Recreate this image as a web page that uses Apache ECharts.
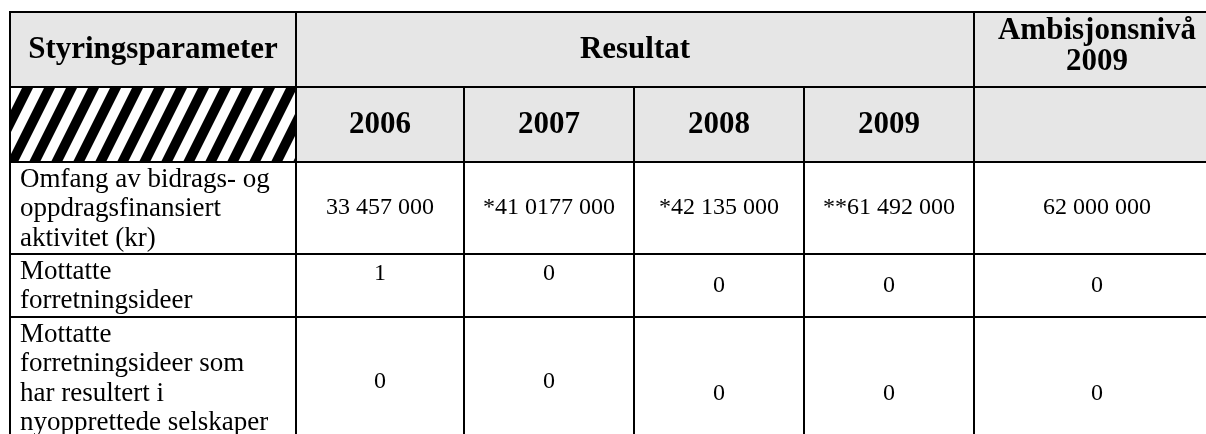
<!DOCTYPE html>
<html>
<head>
<meta charset="utf-8">
<script src="https://cdn.jsdelivr.net/npm/echarts@6/dist/echarts.min.js"></script>
<style>
  html, body { margin: 0; padding: 0; background: #fff; }
  #chart { width: 1206px; height: 434px; }
</style>
</head>
<body>
<div id="chart"></div>
<script>
// table content
const headTitle = 'Styringsparameter'
const groupTitle = 'Resultat'
const targetTitle = 'Ambisjonsnivå\n2009'
const years = ['2006', '2007', '2008', '2009']
const rowLabels = [
  'Omfang av bidrags- og\noppdragsfinansiert\naktivitet (kr)',
  'Mottatte\nforretningsideer',
  'Mottatte\nforretningsideer som\nhar resultert i\nnyopprettede selskaper'
]
const results = [
  ['33 457 000', '*41 0177 000', '*42 135 000', '**61 492 000'],
  ['1', '0', '0', '0'],
  ['0', '0', '0', '0']
]
const targets = ['62 000 000', '0', '0']

// layout: cell edges on the hidden value axes
const colEdges = [10, 296, 464, 634, 804, 974, 1220]
const rowEdges = [12, 87, 162, 254, 317, 470]
const raised = ['3-1', '3-2', '4-1', '4-2']

const GRAY = '#e6e6e6'
const SERIF = '"Liberation Serif", "Times New Roman", serif'

// striped fill for the empty corner cell
function stripes() {
  const c = document.createElement('canvas')
  c.width = 22
  c.height = 44
  const ctx = c.getContext('2d')
  ctx.fillStyle = '#fff'
  ctx.fillRect(0, 0, 22, 44)
  ctx.fillStyle = '#000'
  ctx.beginPath()
  ctx.moveTo(0, 44); ctx.lineTo(11, 44); ctx.lineTo(33, 0); ctx.lineTo(22, 0); ctx.closePath()
  ctx.moveTo(-22, 44); ctx.lineTo(-11, 44); ctx.lineTo(11, 0); ctx.lineTo(0, 0); ctx.closePath()
  ctx.fill()
  return c
}

const cells = []
cells.push({ c: 0, r: 0, cs: 1, text: headTitle, kind: 'head', fill: GRAY })
cells.push({ c: 1, r: 0, cs: 4, text: groupTitle, kind: 'head', fill: GRAY })
cells.push({ c: 5, r: 0, cs: 1, text: targetTitle, kind: 'headTop', fill: GRAY })
cells.push({ c: 0, r: 1, cs: 1, text: '', kind: 'hatch', fill: 'pattern' })
years.forEach((y, i) => cells.push({ c: i + 1, r: 1, cs: 1, text: y, kind: 'head', fill: GRAY }))
cells.push({ c: 5, r: 1, cs: 1, text: '', kind: 'head', fill: GRAY })
rowLabels.forEach((label, i) => {
  const r = i + 2
  cells.push({ c: 0, r: r, cs: 1, text: label, kind: 'label', fill: '#fff' })
  results[i].forEach((v, j) => cells.push({ c: j + 1, r: r, cs: 1, text: v, kind: 'num', fill: '#fff' }))
  cells.push({ c: 5, r: r, cs: 1, text: targets[i], kind: 'num', fill: '#fff' })
})

const hatch = { type: 'pattern', image: stripes(), repeat: 'repeat' }

function renderItem(params, api) {
  const cell = cells[params.dataIndex]
  const p0 = api.coord([colEdges[cell.c], rowEdges[cell.r]])
  const p1 = api.coord([colEdges[cell.c + cell.cs], rowEdges[cell.r + 1]])
  const x = p0[0], y = p0[1], w = p1[0] - p0[0], h = p1[1] - p0[1]
  const children = [{
    type: 'rect',
    shape: { x: x, y: y, width: w, height: h },
    style: { fill: cell.fill === 'pattern' ? hatch : cell.fill, stroke: '#000', lineWidth: 2 }
  }]
  if (cell.text) {
    let st
    if (cell.kind === 'head') {
      st = { x: x + w / 2, y: y + h / 2, align: 'center', verticalAlign: 'middle', font: 'bold 31px ' + SERIF }
    } else if (cell.kind === 'headTop') {
      st = { x: x + w / 2, y: y + 3, align: 'center', verticalAlign: 'top', lineHeight: 31, font: 'bold 31px ' + SERIF }
    } else if (cell.kind === 'label') {
      st = { x: x + 10, y: y + 3, align: 'left', verticalAlign: 'top', lineHeight: 29.5, font: '27px ' + SERIF }
    } else {
      const up = raised.indexOf(cell.r + '-' + cell.c) >= 0 ? 12 : 0
      st = { x: x + w / 2, y: y + h / 2 - up, align: 'center', verticalAlign: 'middle', font: '24px ' + SERIF }
    }
    st.text = cell.text
    st.fill = '#000'
    children.push({ type: 'text', style: st })
  }
  return { type: 'group', children: children }
}

const chart = echarts.init(document.getElementById('chart'))
chart.setOption({
  animation: false,
  backgroundColor: '#fff',
  grid: { left: 0, top: 0, width: 1206, height: 434 },
  xAxis: { type: 'value', min: 0, max: 1206, show: false },
  yAxis: { type: 'value', min: 0, max: 434, inverse: true, show: false },
  series: [{
    type: 'custom',
    renderItem: renderItem,
    clip: false,
    data: cells.map((c, i) => [i])
  }]
})
</script>
</body>
</html>
